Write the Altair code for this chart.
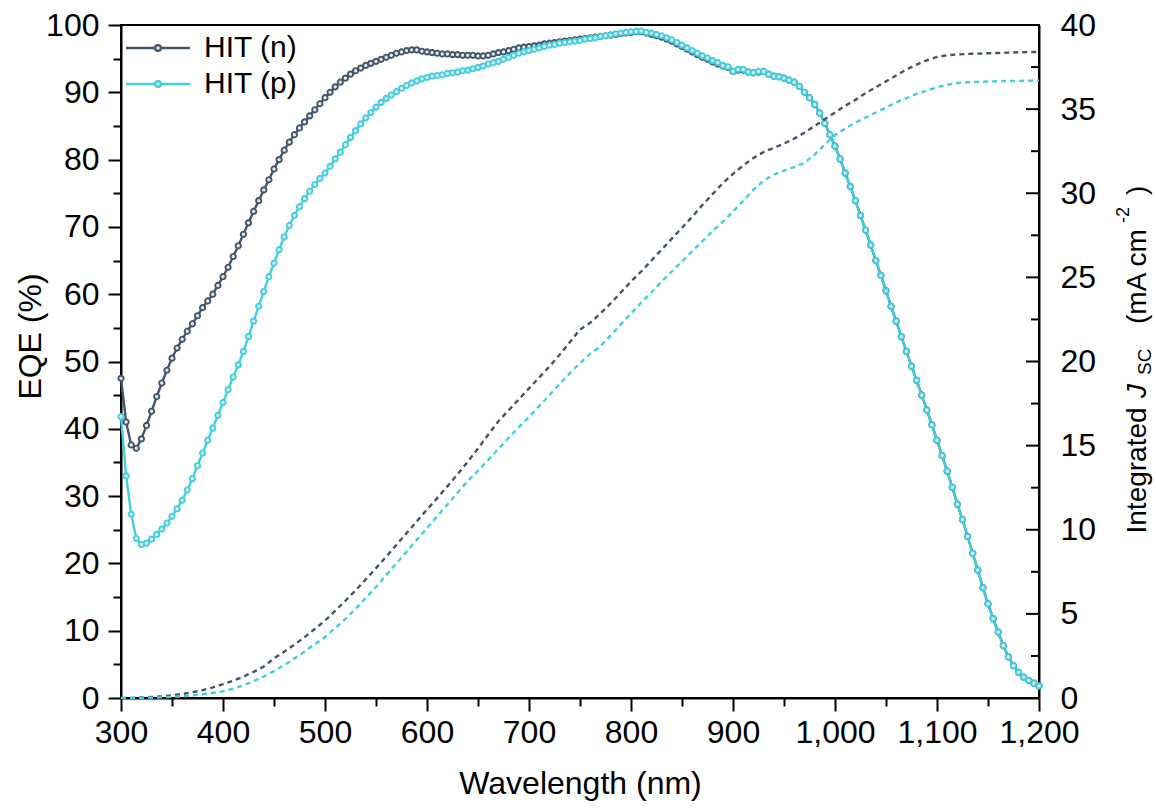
import altair as alt
import pandas as pd

# ---------------- data ----------------
wl_eqe = list(range(300, 1201, 5))
eqe_n = [
    47.5, 41.0, 37.6, 37.1, 38.5, 40.5, 42.6, 44.8, 46.8, 48.7,   # 300-345
    50.5, 52.0, 53.3, 54.5, 55.6, 56.8, 58.0, 59.0, 60.0, 61.3,   # 350-395
    62.6, 64.0, 65.6, 67.2, 68.9, 70.6, 72.3, 73.9, 75.5, 77.0,   # 400-445
    78.6, 80.0, 81.4, 82.6, 83.7, 84.7, 85.6, 86.5, 87.4, 88.3,   # 450-495
    89.2, 90.0, 90.8, 91.5, 92.1, 92.7, 93.2, 93.6, 94.0, 94.3,   # 500-545
    94.6, 94.9, 95.2, 95.5, 95.8, 96.0, 96.2, 96.3, 96.3, 96.1,   # 550-595
    96.0, 95.9, 95.8, 95.7, 95.7, 95.6, 95.6, 95.5, 95.5, 95.5,   # 600-645
    95.4, 95.4, 95.5, 95.7, 95.9, 96.0, 96.2, 96.4, 96.6, 96.7,   # 650-695
    96.8, 96.9, 97.0, 97.2, 97.3, 97.4, 97.5, 97.6, 97.7, 97.8,   # 700-745
    97.9, 98.0, 98.1, 98.2, 98.3, 98.4, 98.5, 98.6, 98.7, 98.8,   # 750-795
    98.9, 99.0, 99.0, 98.8, 98.6, 98.4, 98.2, 97.9, 97.6, 97.2,   # 800-845
    96.8, 96.4, 96.0, 95.6, 95.2, 94.9, 94.5, 94.2, 93.9, 93.7,   # 850-895
    93.1, 93.3, 93.3, 93.0, 92.9, 93.0, 93.1, 92.7, 92.4, 92.3,   # 900-945
    92.1, 91.8, 91.5, 90.9, 90.0, 89.2, 88.2, 86.9, 85.4, 83.7,   # 950-995
    82.0, 80.1, 78.0, 76.0, 73.9, 71.7, 69.5, 67.3, 65.0, 62.8,   # 1000-1045
    60.5, 58.2, 56.0, 53.7, 51.5, 49.3, 47.2, 45.0, 42.8, 40.6,   # 1050-1095
    38.3, 36.0, 33.7, 31.3, 28.8, 26.5, 24.0, 21.5, 19.0, 16.4,   # 1100-1145
    14.0, 11.8, 9.8, 7.8, 6.1, 4.8, 3.8, 3.1, 2.6, 2.2,           # 1150-1195
    1.8,                                                          # 1200
]
eqe_p = [
    41.8, 33.0, 27.3, 23.7, 22.8, 23.0, 23.6, 24.3, 25.1, 26.0,   # 300-345
    27.0, 28.1, 29.4, 30.9, 32.6, 34.5, 36.4, 38.3, 40.1, 42.0,   # 350-395
    43.9, 45.8, 47.7, 49.5, 51.5, 53.7, 56.0, 58.2, 60.4, 62.6,   # 400-445
    64.6, 66.6, 68.5, 70.2, 71.7, 73.0, 74.2, 75.3, 76.3, 77.2,   # 450-495
    78.0, 79.0, 80.1, 81.1, 82.2, 83.3, 84.3, 85.3, 86.2, 87.0,   # 500-545
    87.8, 88.5, 89.1, 89.6, 90.1, 90.6, 91.0, 91.4, 91.7, 92.0,   # 550-595
    92.2, 92.4, 92.5, 92.6, 92.8, 92.9, 93.0, 93.2, 93.3, 93.5,   # 600-645
    93.7, 93.9, 94.2, 94.4, 94.6, 94.9, 95.2, 95.5, 95.8, 96.0,   # 650-695
    96.2, 96.4, 96.6, 96.8, 97.0, 97.1, 97.3, 97.4, 97.5, 97.6,   # 700-745
    97.7, 97.9, 98.0, 98.1, 98.3, 98.4, 98.5, 98.7, 98.8, 98.9,   # 750-795
    99.0, 99.05, 99.1, 98.9, 98.8, 98.6, 98.4, 98.1, 97.8, 97.4,  # 800-845
    97.0, 96.6, 96.2, 95.8, 95.4, 95.1, 94.7, 94.4, 94.0, 93.8,   # 850-895
    93.1, 93.4, 93.4, 93.0, 92.9, 93.1, 93.1, 92.7, 92.4, 92.3,   # 900-945
    92.1, 91.8, 91.5, 90.9, 90.0, 89.2, 88.2, 86.9, 85.4, 83.7,   # 950-995
    82.0, 80.1, 78.0, 76.0, 73.9, 71.7, 69.5, 67.3, 65.0, 62.8,   # 1000-1045
    60.5, 58.2, 56.0, 53.7, 51.5, 49.3, 47.2, 45.0, 42.8, 40.6,   # 1050-1095
    38.3, 36.0, 33.7, 31.3, 28.8, 26.5, 24.0, 21.5, 19.0, 16.4,   # 1100-1145
    14.0, 11.8, 9.8, 7.8, 6.1, 4.8, 3.8, 3.1, 2.6, 2.2,           # 1150-1195
    1.8,                                                          # 1200
]

wl_jsc = list(range(300, 1201, 10))
jsc_n = [
    0.00, 0.01, 0.03, 0.06, 0.10, 0.16, 0.24, 0.34, 0.47, 0.63,   # 300-390
    0.82, 1.03, 1.27, 1.55, 1.87, 2.35, 2.75, 3.17, 3.62, 4.10,   # 400-490
    4.60, 5.18, 5.78, 6.40, 7.05, 7.72, 8.40, 9.10, 9.80, 10.50,  # 500-590
    11.20, 11.88, 12.58, 13.30, 14.05, 14.83, 15.65, 16.45, 17.10, 17.75,  # 600-690
    18.40, 19.05, 19.70, 20.40, 21.15, 21.90, 22.30, 22.85, 23.45, 24.10,  # 700-790
    24.75, 25.35, 26.00, 26.65, 27.30, 27.95, 28.60, 29.30, 29.95, 30.60,  # 800-890
    31.15, 31.65, 32.10, 32.45, 32.70, 32.95, 33.25, 33.60, 34.00, 34.40,  # 900-990
    34.80, 35.20, 35.55, 35.95, 36.30, 36.65, 37.00, 37.35, 37.65, 37.90,  # 1000-1090
    38.10, 38.20, 38.25, 38.28, 38.30, 38.32, 38.34, 38.36, 38.38, 38.39,  # 1100-1190
    38.40,
]
jsc_p = [
    0.00, 0.005, 0.01, 0.02, 0.04, 0.07, 0.10, 0.15, 0.22, 0.30,  # 300-390
    0.40, 0.55, 0.75, 1.00, 1.28, 1.60, 1.95, 2.35, 2.77, 3.20,   # 400-490
    3.62, 4.15, 4.70, 5.30, 5.95, 6.60, 7.30, 8.00, 8.70, 9.40,   # 500-590
    10.10, 10.80, 11.50, 12.20, 12.90, 13.50, 14.15, 14.80, 15.45, 16.10,  # 600-690
    16.70, 17.35, 18.00, 18.65, 19.30, 19.90, 20.45, 20.90, 21.55, 22.20,  # 700-790
    22.85, 23.50, 24.10, 24.75, 25.35, 25.95, 26.55, 27.15, 27.75, 28.30,  # 800-890
    28.90, 29.55, 30.20, 30.75, 31.10, 31.35, 31.55, 31.80, 32.30, 32.90,  # 900-990
    33.45, 33.85, 34.20, 34.50, 34.80, 35.10, 35.40, 35.65, 35.90, 36.10,  # 1000-1090
    36.30, 36.45, 36.55, 36.60, 36.62, 36.64, 36.66, 36.67, 36.68, 36.69,  # 1100-1190
    36.70,
]

series_names = ["HIT (n)", "HIT (p)"]
series_colors = ["#44546a", "#3fcfe0"]

x_ticks = list(range(300, 1201, 50))
eqe_ticks = list(range(0, 101, 5))
jsc_major = [0, 5, 10, 15, 20, 25, 30, 35, 40]
jsc_minor = [2.5, 7.5, 12.5, 17.5, 22.5, 27.5, 32.5, 37.5]

title_main_1 = ["Integrated"]
title_j = ["J"]
title_sub = ["SC"]
title_main_2 = ["(mA cm"]
title_sup = ["-2"]
title_main_3 = [")"]

# ---------------- tables ----------------
eqe_df = pd.DataFrame({
    "wl": wl_eqe * 2,
    "eqe": eqe_n + eqe_p,
    "series": [series_names[0]] * len(wl_eqe) + [series_names[1]] * len(wl_eqe),
})
jsc_df = pd.DataFrame({
    "wl": wl_jsc * 2,
    "jsc": jsc_n + jsc_p,
    "series": [series_names[0]] * len(wl_jsc) + [series_names[1]] * len(wl_jsc),
})

W, H = 918, 673
FONT = "Liberation Sans"

legend_path = ("M -4 0 L -0.36 0 M 0.36 0 L 4 0 "
               "M -0.36 0 A 0.36 0.36 0 1 1 0.36 0 A 0.36 0.36 0 1 1 -0.36 0")

x_enc = alt.X(
    "wl:Q",
    scale=alt.Scale(domain=[300, 1200], nice=False, zero=False),
    axis=alt.Axis(
        title="Wavelength (nm)", values=x_ticks, format=",d",
        labelExpr="datum.value % 100 === 0 ? datum.label : ''",
        tickSize={"condition": {"test": "datum.value % 100 === 0", "value": 13}, "value": 8},
        labelPadding=6, labelFontSize=32, titleFontSize=32, titleFontWeight="normal",
        titleBaseline="alphabetic", titleY=95, grid=False,
        labelOverlap=False, labelFlush=False,
    ),
)

eqe_layer = alt.Chart(eqe_df).mark_line(
    strokeWidth=2.4,
    point=alt.OverlayMarkDef(filled=False, fill="#e3eef2", size=28, strokeWidth=1.9),
).encode(
    x=x_enc,
    y=alt.Y(
        "eqe:Q",
        scale=alt.Scale(domain=[0, 100], nice=False),
        axis=alt.Axis(
            title="EQE (%)", values=eqe_ticks,
            labelExpr="datum.value % 10 === 0 ? datum.label : ''",
            tickSize={"condition": {"test": "datum.value % 10 === 0", "value": 13}, "value": 8},
            labelPadding=9, labelFontSize=32, titleFontSize=32, titleFontWeight="normal",
            titleAngle=270, titleAlign="center", titleBaseline="alphabetic",
            titleX=-81, titleY=311, grid=False, labelOverlap=False, labelFlush=False,
        ),
    ),
    color=alt.Color(
        "series:N",
        scale=alt.Scale(domain=series_names, range=series_colors),
        legend=alt.Legend(
            title=None, orient="none", legendX=22, legendY=8,
            symbolType=legend_path, symbolSize=256, symbolStrokeWidth=2.4,
            labelFontSize=30, labelFont=FONT, labelColor="black",
            labelOffset=31, rowPadding=6, padding=0,
        ),
    ),
)

jsc_scale = alt.Scale(domain=[0, 40], nice=False)

jsc_layer = alt.Chart(jsc_df).mark_line(strokeWidth=2.4, strokeDash=[5, 4]).encode(
    x=alt.X("wl:Q"),
    y=alt.Y(
        "jsc:Q", scale=jsc_scale,
        axis=alt.Axis(
            orient="right", title=None, values=jsc_major, ticks=False, tickSize=0,
            labelPadding=21, labelFontSize=32, grid=False, labelOverlap=False,
            labelFlush=False,
        ),
    ),
    color=alt.Color(
        "series:N",
        scale=alt.Scale(domain=series_names, range=series_colors),
        legend=None,
    ),
)

tick_major = alt.Chart(pd.DataFrame({"jsc": jsc_major})).mark_rule(
    color="black", strokeWidth=2
).encode(y=alt.Y("jsc:Q", scale=jsc_scale), x=alt.value(W - 13), x2=alt.value(W))

tick_minor = alt.Chart(pd.DataFrame({"jsc": jsc_minor})).mark_rule(
    color="black", strokeWidth=2
).encode(y=alt.Y("jsc:Q", scale=jsc_scale), x=alt.value(W - 8), x2=alt.value(W))

right_group = alt.layer(jsc_layer, tick_major, tick_minor)


def title_piece(txt, x, y, size, style="normal"):
    return alt.Chart(pd.DataFrame({"t": txt})).mark_text(
        angle=270, align="left", baseline="alphabetic", font=FONT,
        fontSize=size, fontStyle=style, color="black",
    ).encode(text="t:N", x=alt.value(x), y=alt.value(y))


rt = alt.layer(
    title_piece(title_main_1, 1024.5, 508.5, 28),
    title_piece(title_j, 1024.5, 373, 28, "italic"),
    title_piece(title_sub, 1029.5, 350, 19),
    title_piece(title_main_2, 1024.5, 299, 28),
    title_piece(title_sup, 1008, 198, 18),
    title_piece(title_main_3, 1024.5, 170, 28),
)

chart = alt.layer(eqe_layer, right_group, rt).resolve_scale(
    y="independent", color="independent"
).properties(
    width=W, height=H,
    background="white",
    autosize=alt.AutoSizeParams(type="none"),
    padding={"left": 121, "top": 25, "right": 1156 - 121 - W, "bottom": 810 - 25 - H},
).configure_view(
    stroke="black", strokeWidth=2
).configure_axis(
    labelFont=FONT, titleFont=FONT, labelColor="black", titleColor="black",
    domainColor="black", tickColor="black", domainWidth=2, tickWidth=2,
    titleFontWeight="normal",
)

chart.save("out.html", embed_options={"renderer": "svg", "actions": False})
